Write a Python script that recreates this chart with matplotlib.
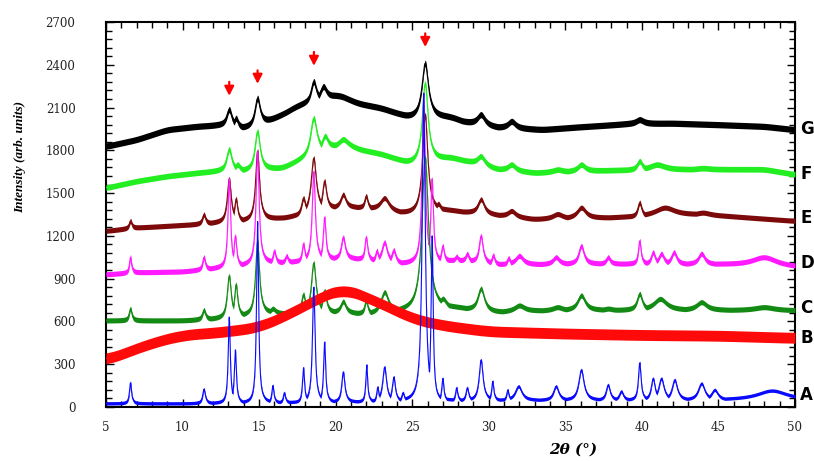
import numpy as np
import matplotlib.pyplot as plt
from matplotlib.ticker import MultipleLocator

# Curvas DRX A-G: línea base (nudos leídos) + picos (centro, tope absoluto, semi-ancho)
names = ["A", "B", "C", "D", "E", "F", "G"]
colors = ["#0a0aff", "#ff0a0a", "#138a13", "#ff1aff", "#7d0a0a", "#22ee22", "#000000"]
band = [12, 38, 18, 18, 18, 20, 22]
smooth_n = [41, 221, 81, 81, 81, 81, 81]

base_x = {
    "A": [5, 10, 15, 20, 25, 30, 35, 40, 45, 50],
    "B": [5, 6.5, 8, 10, 12.5, 15, 17, 19, 20.5, 22, 23.5, 25, 27, 30, 35, 40, 45, 50],
    "C": [5, 10, 12.5, 14, 16, 17, 20, 22.5, 24.5, 28, 30.5, 33, 38, 45, 50],
    "D": [5, 7, 10, 12.5, 15.5, 17, 20, 21.3, 24.5, 28, 30.5, 33, 38, 45, 50],
    "E": [5, 7, 9, 11, 12.5, 16, 17, 20, 21.5, 24.8, 27.5, 30.5, 33, 38, 44, 50],
    "F": [5, 7, 9, 11, 12.5, 14.2, 16.5, 17.5, 20.5, 21.5, 23, 24.8, 27.5, 28.5, 30.5, 33, 38, 44, 48, 50],
    "G": [5, 7, 9, 11, 12.5, 14.2, 15.6, 16.5, 17.5, 20.2, 21.5, 23, 24.8, 26.5, 27.5, 28.5, 30.5,
          33.5, 36, 39, 42, 45, 48, 50],
}
base_y = {
    "A": [25, 25, 30, 35, 40, 48, 48, 50, 50, 50],
    "B": [330, 390, 450, 505, 525, 560, 655, 770, 835, 770, 700, 620, 572, 530, 515, 505, 500, 485],
    "C": [607, 607, 620, 640, 660, 650, 665, 650, 670, 690, 665, 675, 680, 680, 677],
    "D": [930, 944, 950, 975, 1010, 1015, 1040, 1040, 1004, 1030, 1000, 1000, 1005, 1000, 980],
    "E": [1235, 1258, 1270, 1282, 1293, 1320, 1330, 1400, 1400, 1354, 1375, 1345, 1317, 1328, 1350, 1305],
    "F": [1537, 1584, 1619, 1642, 1654, 1654, 1675, 1720, 1850, 1807, 1772, 1703, 1745, 1724, 1667,
          1642, 1660, 1667, 1667, 1631],
    "G": [1828, 1875, 1945, 1968, 1975, 1955, 2003, 2050, 2110, 2185, 2128, 2094, 2025, 2030, 2030,
          1995, 1960, 1945, 1965, 1985, 1990, 1980, 1968, 1945],
}

peaks = {
    "A": [(6.6, 170, 0.08), (11.4, 125, 0.1), (13.05, 630, 0.08), (13.45, 400, 0.08),
          (14.9, 1300, 0.08), (15.9, 150, 0.08), (16.65, 100, 0.08), (17.9, 275, 0.08),
          (18.57, 840, 0.1), (19.28, 455, 0.08), (20.5, 245, 0.12), (22.03, 295, 0.07),
          (22.75, 140, 0.08), (23.2, 280, 0.15), (23.8, 210, 0.12), (24.4, 100, 0.1),
          (25.75, 2200, 0.12), (26.3, 1200, 0.08), (27.0, 200, 0.08), (27.9, 135, 0.08),
          (28.6, 135, 0.1), (29.5, 330, 0.15), (30.26, 180, 0.08), (31.24, 120, 0.08),
          (31.95, 145, 0.25), (34.4, 145, 0.2), (36.05, 260, 0.2), (37.8, 155, 0.15),
          (38.66, 110, 0.15), (39.86, 310, 0.1), (40.74, 200, 0.15), (41.28, 200, 0.2),
          (42.15, 190, 0.2), (43.9, 165, 0.25), (44.76, 120, 0.25), (48.5, 115, 1.2)],
    "B": [],
    "C": [(6.6, 690, 0.1), (11.4, 680, 0.12), (13.05, 920, 0.15), (13.5, 860, 0.12),
          (14.9, 1160, 0.15), (15.9, 690, 0.2), (17.9, 790, 0.15), (18.57, 1010, 0.18),
          (19.28, 815, 0.15), (20.5, 740, 0.2), (22.0, 745, 0.12), (23.2, 805, 0.3),
          (25.85, 1750, 0.25), (27.0, 760, 0.3), (29.5, 830, 0.25), (32.0, 712, 0.4),
          (34.5, 700, 0.4), (36.05, 782, 0.3), (37.8, 690, 0.3), (39.86, 793, 0.2),
          (41.2, 758, 0.5), (43.9, 735, 0.4), (48.0, 700, 0.8)],
    "D": [(6.6, 1050, 0.08), (11.4, 1050, 0.1), (13.05, 1600, 0.1), (13.45, 1200, 0.1),
          (14.9, 1790, 0.12), (16.0, 1095, 0.1), (16.8, 1060, 0.1), (17.9, 1145, 0.1),
          (18.57, 1650, 0.12), (19.28, 1330, 0.1), (20.5, 1190, 0.15), (22.0, 1190, 0.1),
          (22.7, 1096, 0.1), (23.2, 1155, 0.2), (23.8, 1100, 0.15), (25.75, 2150, 0.12),
          (26.3, 1600, 0.1), (27.0, 1130, 0.1), (27.9, 1055, 0.1), (28.6, 1075, 0.12),
          (29.5, 1200, 0.15), (30.3, 1065, 0.1), (31.3, 1045, 0.1), (32.0, 1060, 0.3),
          (34.4, 1050, 0.25), (36.05, 1130, 0.2), (37.8, 1050, 0.15), (39.86, 1165, 0.1),
          (40.74, 1085, 0.15), (41.28, 1075, 0.2), (42.1, 1085, 0.2), (43.9, 1075, 0.25),
          (48.0, 1050, 1.0)],
    "E": [(6.6, 1305, 0.1), (11.4, 1350, 0.12), (13.05, 1600, 0.15), (13.5, 1460, 0.12),
          (14.9, 1795, 0.15), (17.9, 1465, 0.15), (18.57, 1745, 0.2), (19.28, 1585, 0.15),
          (20.5, 1490, 0.2), (22.0, 1480, 0.12), (23.2, 1465, 0.35), (25.85, 2050, 0.2),
          (26.7, 1425, 0.2), (29.5, 1456, 0.25), (30.3, 1353, 0.15), (31.5, 1375, 0.3),
          (34.5, 1353, 0.4), (36.05, 1398, 0.35), (39.86, 1433, 0.15), (41.5, 1398, 0.8),
          (44.0, 1363, 0.5)],
    "F": [(13.05, 1807, 0.2), (13.6, 1700, 0.2), (14.9, 1933, 0.2), (18.57, 2025, 0.25),
          (19.3, 1900, 0.25), (20.5, 1877, 0.3), (25.85, 2270, 0.22), (29.5, 1758, 0.3),
          (31.5, 1700, 0.3), (34.5, 1665, 0.4), (36.05, 1700, 0.3), (39.86, 1724, 0.2),
          (41.0, 1700, 0.6), (44.0, 1675, 0.5)],
    "G": [(13.05, 2086, 0.2), (13.5, 2025, 0.15), (14.9, 2165, 0.2), (18.57, 2282, 0.2),
          (19.2, 2247, 0.25), (25.85, 2410, 0.25), (29.5, 2050, 0.3), (31.5, 2003, 0.3),
          (39.86, 2015, 0.3)],
}

# flechas rojas: posición, punta, cola
arrow_x = [13.05, 14.9, 18.58, 25.85]
arrow_tip = [2163, 2247, 2373, 2505]
arrow_tail = [2300, 2380, 2510, 2640]

label_y = [84, 482, 691, 1012, 1326, 1633, 1947]

two_theta = np.linspace(5, 50, 4501)


def smooth(y, n):
    k = np.ones(n) / n
    yp = np.pad(y, n // 2, mode="edge")
    return np.convolve(yp, k, mode="valid")


def trace(name):
    i = names.index(name)
    base = smooth(np.interp(two_theta, base_x[name], base_y[name]), smooth_n[i])
    prof = np.zeros_like(two_theta)
    for c, top, w in peaks[name]:
        h = top - np.interp(c, two_theta, base)
        prof = np.maximum(prof, h / (1 + ((two_theta - c) / w) ** 2))
    return base + prof


fig = plt.figure(figsize=(8.14, 4.61), dpi=100)
ax = fig.add_axes([106 / 814, 54 / 461, 689 / 814, 385 / 461])

order = ["G", "F", "E", "D", "C", "B", "A"]
for name in order:
    i = names.index(name)
    y = trace(name)
    z = 2 + order.index(name)
    ax.fill_between(two_theta, y - band[i], y + band[i], color=colors[i], lw=0, zorder=z)
    ax.plot(two_theta, y, color=colors[i], lw=0.8, zorder=z)

for x, t0, t1 in zip(arrow_x, arrow_tip, arrow_tail):
    ax.annotate("", xy=(x, t0), xytext=(x, t1),
                arrowprops=dict(arrowstyle="-|>,head_width=0.28,head_length=0.55", color="red", lw=1.6),
                zorder=20)

for name, yl in zip(names, label_y):
    ax.text(50.35, yl, name, fontsize=12, fontweight="bold", family="DejaVu Sans",
            ha="left", va="center", clip_on=False)

ax.set_xlim(5, 50)
ax.set_ylim(0, 2700)
ax.set_xticks(np.arange(5, 51, 5))
ax.set_yticks(np.arange(0, 2701, 300))
ax.xaxis.set_minor_locator(MultipleLocator(1))
ax.yaxis.set_minor_locator(MultipleLocator(60))
ax.tick_params(which="both", direction="in", top=True, right=True, width=1.0, colors="black")
ax.tick_params(which="major", length=6)
ax.tick_params(which="minor", length=4)
ax.tick_params(axis="y", which="major", pad=22)
ax.tick_params(axis="x", which="major", pad=10)
for lab in ax.get_xticklabels() + ax.get_yticklabels():
    lab.set_family("DejaVu Serif")
    lab.set_fontsize(8.5)
    lab.set_color("#222222")
for s in ax.spines.values():
    s.set_linewidth(1.5)

fig.text(20 / 814, 1 - 157 / 461, "Intensity (arb. units)", rotation=90, ha="center", va="center",
         family="Liberation Serif", style="italic", fontweight="bold", fontsize=9.5)
fig.text(573 / 814, 1 - 443 / 461, "2θ (°)", ha="center", va="top",
         family="DejaVu Serif", style="italic", fontweight="bold", fontsize=11)

fig.savefig("out.png", dpi=100)
